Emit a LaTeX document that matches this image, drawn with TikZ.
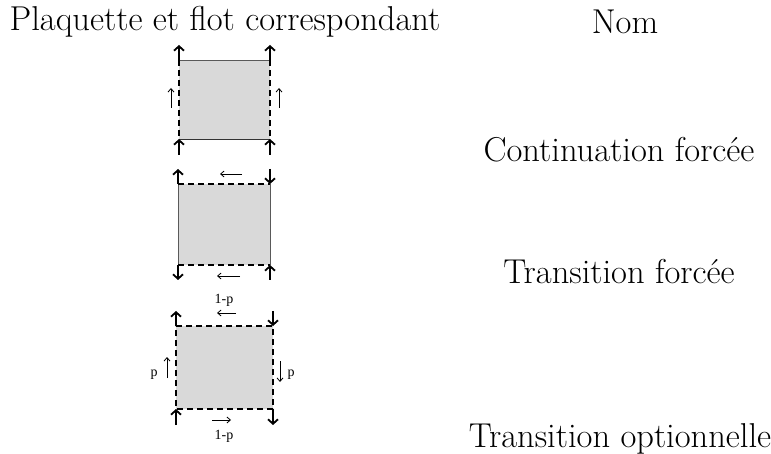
\documentclass[tikz,border=0pt]{standalone}
\usepackage{fontspec}
\newfontfamily\timesf{Liberation Serif}
\usetikzlibrary{arrows.meta}
\begin{document}
\begin{tikzpicture}[x=1pt,y=-1pt,
  dedge/.style={draw=black, line width=2pt, dash pattern=on 6pt off 4pt},
  bigarr/.style={line width=2pt, -{Straight Barb[length=4.5pt,width=10pt,line width=1.8pt]}},
  smallarr/.style={line width=0.8pt, -{Straight Barb[length=3.5pt,width=6pt]}},
  hdr/.style={font=\fontsize{34.5}{38}\selectfont, inner sep=0pt},
  lab/.style={font=\timesf\fontsize{14}{16}\selectfont, inner sep=0pt}]
\useasboundingbox (0,0) rectangle (771,454);
% headers
\node[hdr] (h1) at (225,22) {Plaquette et flot correspondant};
\node[hdr] (h2) at (625,22) {Nom};
\node[hdr] (n1) at (619,150) {Continuation forcée};
\node[hdr] (n2) at (619,272) {Transition forcée};
\node[hdr] (n3) at (620,439) {Transition optionnelle};
% ---- square 1
\coordinate (a1) at (179,60); \coordinate (b1) at (270,60);
\coordinate (c1) at (270,139); \coordinate (d1) at (179,139);
\fill[gray!30] (a1) rectangle (c1);
\draw[gray!70!black, line width=0.8pt] (a1) -- (b1);
\draw[black!80, line width=0.8pt] (d1) -- (c1);
\draw[dedge] (a1) -- (d1); \draw[dedge] (b1) -- (c1);
\coordinate (a1t) at (179,45); \coordinate (b1t) at (270,45);
\coordinate (d1t) at (179,155); \coordinate (c1t) at (270,155);
\draw[bigarr] (a1) -- (a1t); \draw[bigarr] (b1) -- (b1t);
\draw[bigarr] (d1t) -- (d1); \draw[bigarr] (c1t) -- (c1);
\coordinate (s1a) at (171,108); \coordinate (s1b) at (171,88);
\coordinate (s1c) at (279,108); \coordinate (s1d) at (279,88);
\draw[smallarr] (s1a) -- (s1b); \draw[smallarr] (s1c) -- (s1d);
% ---- square 2
\coordinate (a2) at (178,184); \coordinate (b2) at (270,184);
\coordinate (c2) at (270,265); \coordinate (d2) at (178,265);
\fill[gray!30] (a2) rectangle (c2);
\draw[gray!70!black, line width=0.8pt] (a2) -- (d2) (b2) -- (c2);
\draw[dedge] (a2) -- (b2); \draw[dedge] (d2) -- (c2);
\coordinate (a2t) at (178,169); \coordinate (b2t) at (270,169);
\coordinate (d2t) at (178,280); \coordinate (c2t) at (270,280);
\draw[bigarr] (a2) -- (a2t); \draw[bigarr] (b2t) -- (b2);
\draw[bigarr] (d2) -- (d2t); \draw[bigarr] (c2t) -- (c2);
\coordinate (s2a) at (242,174); \coordinate (s2b) at (220,174);
\coordinate (s2c) at (240,276); \coordinate (s2d) at (217,276);
\draw[smallarr] (s2a) -- (s2b); \draw[smallarr] (s2c) -- (s2d);
% ---- square 3
\coordinate (a3) at (176,326); \coordinate (b3) at (273,326);
\coordinate (c3) at (273,409); \coordinate (d3) at (176,409);
\fill[gray!30] (a3) rectangle (c3);
\draw[dedge] (a3) -- (b3) -- (c3) -- (d3) -- cycle;
\coordinate (a3t) at (176,311); \coordinate (b3t) at (273,311);
\coordinate (d3t) at (176,425); \coordinate (c3t) at (273,425);
\draw[bigarr] (a3) -- (a3t); \draw[bigarr] (b3t) -- (b3);
\draw[bigarr] (d3t) -- (d3); \draw[bigarr] (c3) -- (c3t);
\coordinate (s3a) at (236,313); \coordinate (s3b) at (217,313);
\coordinate (s3c) at (167,378); \coordinate (s3d) at (167,357);
\coordinate (s3e) at (280,361); \coordinate (s3f) at (280,382);
\coordinate (s3g) at (212,420); \coordinate (s3h) at (231,420);
\draw[smallarr] (s3a) -- (s3b); \draw[smallarr] (s3c) -- (s3d);
\draw[smallarr] (s3e) -- (s3f); \draw[smallarr] (s3g) -- (s3h);
\node[lab] (l1) at (224,300) {1-p};
\node[lab] (l2) at (154,375) {p};
\node[lab] (l3) at (291,375) {p};
\node[lab] (l4) at (224,436) {1-p};
\end{tikzpicture}
\end{document}
